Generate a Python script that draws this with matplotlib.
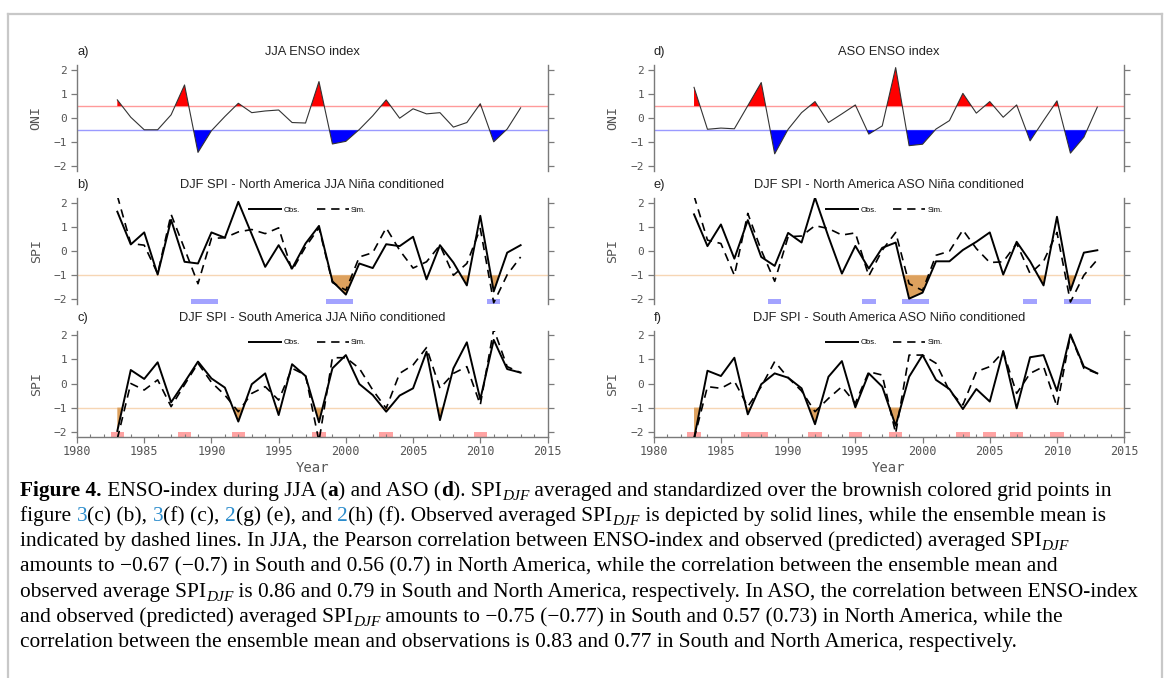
import numpy as np
import matplotlib.pyplot as plt
from matplotlib.lines import Line2D
from matplotlib.ticker import MultipleLocator

W, H = 1167, 678

years = np.arange(1983, 2014)

# ENSO index (ONI)
oni_jja = [0.76, 0.04, -0.48, -0.48, 0.14, 1.38, -1.42, -0.52, 0.07, 0.62,
           0.23, 0.30, 0.34, -0.18, -0.20, 1.52, -1.07, -0.96, -0.47, 0.10,
           0.76, 0.00, 0.39, 0.18, 0.23, -0.37, -0.18, 0.60, -0.98, -0.45, 0.43]
oni_aso = [1.28, -0.46, -0.41, -0.44, 0.52, 1.48, -1.48, -0.46, 0.23, 0.69,
           -0.18, 0.18, 0.55, -0.66, -0.32, 2.10, -1.14, -1.08, -0.45, -0.10,
           1.03, 0.21, 0.69, 0.04, 0.55, -0.94, -0.10, 0.72, -1.45, -0.79, 0.46]

# DJF SPI, North America (Nina conditioned)
na_jja_obs = [1.64, 0.28, 0.78, -0.97, 1.30, -0.44, -0.51, 0.78, 0.56, 2.05,
              0.70, -0.65, 0.25, -0.72, 0.32, 1.05, -1.25, -1.80, -0.51, -0.70,
              0.29, 0.21, 0.60, -1.17, 0.25, -0.47, -1.42, 1.47, -1.67, -0.06, 0.25]
na_jja_sim = [2.30, 0.32, 0.25, -0.93, 1.53, 0.10, -1.35, 0.53, 0.56, 0.80,
              0.90, 0.73, 0.97, -0.80, 0.18, 0.97, -1.30, -1.62, -0.24, -0.06,
              0.97, 0.04, -0.70, -0.44, 0.25, -1.00, -0.51, 0.94, -2.14, -0.98, -0.24]
na_aso_obs = [1.53, 0.21, 1.11, -0.31, 1.29, -0.24, -0.61, 0.76, 0.36, 2.22,
              0.60, -0.93, 0.22, -0.72, 0.14, 0.36, -1.97, -1.72, -0.42, -0.42,
              0.05, 0.39, 0.78, -0.97, 0.39, -0.42, -1.42, 1.43, -1.63, -0.06, 0.04]
na_aso_sim = [2.30, 0.46, 0.32, -1.00, 1.57, 0.04, -1.25, 0.60, 0.63, 1.06,
              0.94, 0.67, 0.76, -1.03, 0.04, 0.78, -1.35, -1.63, -0.17, 0.00,
              0.88, 0.11, -0.47, -0.44, 0.32, -0.93, -0.42, 0.78, -2.11, -1.00, -0.35]

# DJF SPI, South America (Nino conditioned)
sa_jja_obs = [-1.97, 0.56, 0.19, 0.88, -0.78, 0.05, 0.91, 0.21, -0.17, -1.58,
              -0.03, 0.42, -1.31, 0.80, 0.31, -1.61, 0.63, 1.18, -0.02, -0.48,
              -1.17, -0.50, -0.20, 1.32, -1.52, 0.63, 1.71, -0.66, 1.81, 0.60, 0.45]
sa_jja_sim = [-2.30, 0.00, -0.27, 0.15, -0.96, -0.05, 0.84, 0.05, -0.48, -1.17,
              -0.41, -0.13, -0.69, 0.63, 0.35, -2.40, 1.07, 1.07, 0.63, -0.27,
              -1.03, 0.42, 0.77, 1.49, -0.20, 0.42, 0.70, -0.89, 2.26, 0.70, 0.45]
sa_aso_obs = [-2.30, 0.53, 0.31, 1.07, -1.28, -0.03, 0.42, 0.24, -0.20, -1.69,
              0.28, 0.93, -0.99, 0.42, -0.13, -1.75, 0.28, 1.18, 0.15, -0.23,
              -1.06, -0.23, -0.75, 1.35, -1.03, 1.09, 1.18, -0.31, 2.04, 0.70, 0.42]
sa_aso_sim = [-2.30, -0.13, -0.20, 0.10, -0.96, -0.13, 0.91, 0.24, -0.31, -1.17,
              -0.62, -0.13, -0.82, 0.49, 0.35, -2.07, 1.18, 1.18, 0.84, -0.31,
              -0.89, 0.49, 0.70, 1.32, -0.41, 0.42, 0.70, -0.96, 2.01, 0.63, 0.42]

# years flagged at the bottom of the SPI panels
nina_jja = [1989, 1990, 1999, 2000, 2011]
nino_jja = [1983, 1988, 1992, 1998, 2003, 2010]
nina_aso = [1989, 1996, 1999, 2000, 2008, 2011, 2012]
nino_aso = [1983, 1987, 1988, 1992, 1995, 1998, 2003, 2005, 2007, 2010]

SPINE = '#7a7a7a'
TICKLBL = '#555555'
MONO = 'DejaVu Sans Mono'
SANS = 'Liberation Sans'


def style_axis(ax, bottom_row, ylabel):
    ax.set_xlim(1980, 2015)
    ax.set_ylim(-2.2, 2.2)
    ax.set_yticks([-2, -1, 0, 1, 2])
    ax.spines['top'].set_visible(False)
    for s in ('left', 'right', 'bottom'):
        ax.spines[s].set_color(SPINE)
        ax.spines[s].set_linewidth(1.0)
    ax.tick_params(axis='y', left=True, right=True, labelleft=True,
                   labelright=False, direction='out', length=4, width=0.9,
                   color=SPINE, labelcolor=TICKLBL, labelsize=8, pad=3)
    for lab in ax.get_yticklabels():
        lab.set_family(MONO)
    ax.set_ylabel(ylabel, family=MONO, color=TICKLBL, fontsize=9.5, labelpad=8)
    if bottom_row:
        ax.xaxis.set_major_locator(MultipleLocator(5))
        ax.xaxis.set_minor_locator(MultipleLocator(1))
        ax.tick_params(axis='x', which='major', direction='out', length=4,
                       width=0.9, color=SPINE, labelcolor=TICKLBL, labelsize=8.5, pad=2)
        ax.tick_params(axis='x', which='minor', direction='in', length=2.5,
                       width=0.8, color=SPINE)
        for lab in ax.get_xticklabels():
            lab.set_family(MONO)
        ax.set_xlabel('Year', family=MONO, color=TICKLBL, fontsize=10, labelpad=2)
    else:
        ax.spines['bottom'].set_visible(False)
        ax.tick_params(axis='x', which='both', bottom=False, labelbottom=False)


def titles(ax, letter, title):
    ax.set_title(title, family=SANS, fontsize=9.3, color='#222222', pad=7)
    ax.set_title(letter, loc='left', family=SANS, fontsize=9.3, color='#222222', pad=7)


def oni_panel(ax, oni, letter, title):
    oni = np.array(oni)
    ax.axhline(0.5, color='#ff9a9a', lw=1.0, zorder=1)
    ax.axhline(-0.5, color='#9a9aff', lw=1.0, zorder=1)
    ax.fill_between(years, oni, 0.5, where=oni > 0.5, interpolate=True,
                    color='red', lw=0, zorder=2)
    ax.fill_between(years, oni, -0.5, where=oni < -0.5, interpolate=True,
                    color='blue', lw=0, zorder=2)
    ax.plot(years, oni, color='#333333', lw=0.8, zorder=3)
    titles(ax, letter, title)


def spi_panel(ax, obs, sim, flags, flag_color, letter, title):
    obs = np.array(obs)
    ax.axhline(-1, color='#f6d6b4', lw=1.0, zorder=1)
    ax.fill_between(years, obs, -1, where=obs < -1, interpolate=True,
                    color='#dda15e', lw=0, zorder=2)
    ax.bar(flags, 0.2, bottom=-2.2, width=1.0, color=flag_color, lw=0, zorder=1.5)
    ax.plot(years, obs, color='black', lw=1.4, label='Obs.', zorder=4)
    ax.plot(years, sim, color='black', lw=1.2, dashes=(5, 3.5), label='Sim.', zorder=4)
    leg = ax.legend(loc='center', bbox_to_anchor=(0.49, 0.885), ncol=2,
                    frameon=False, fontsize=5.5, handlelength=4.2,
                    handletextpad=0.3, columnspacing=2.2)
    for t in leg.get_texts():
        t.set_family(SANS)
    titles(ax, letter, title)


fig = plt.figure(figsize=(W / 100, H / 100), dpi=100)

col_x = [77 / W, 653.7 / W]
col_w = 470.5 / W
row_top = [65.2, 198.2, 330.5]
row_h = 106.0

axes = {}
for ci in range(2):
    for ri in range(3):
        bottom = 1 - (row_top[ri] + row_h) / H
        axes[(ri, ci)] = fig.add_axes([col_x[ci], bottom, col_w, row_h / H])

oni_panel(axes[(0, 0)], oni_jja, 'a)', 'JJA ENSO index')
oni_panel(axes[(0, 1)], oni_aso, 'd)', 'ASO ENSO index')
spi_panel(axes[(1, 0)], na_jja_obs, na_jja_sim, nina_jja, '#a3a3ff', 'b)',
          'DJF SPI - North America JJA Niña conditioned')
spi_panel(axes[(1, 1)], na_aso_obs, na_aso_sim, nina_aso, '#a3a3ff', 'e)',
          'DJF SPI - North America ASO Niña conditioned')
spi_panel(axes[(2, 0)], sa_jja_obs, sa_jja_sim, nino_jja, '#ffa3a3', 'c)',
          'DJF SPI - South America JJA Niño conditioned')
spi_panel(axes[(2, 1)], sa_aso_obs, sa_aso_sim, nino_aso, '#ffa3a3', 'f)',
          'DJF SPI - South America ASO Niño conditioned')

for (ri, ci), ax in axes.items():
    style_axis(ax, ri == 2, 'ONI' if ri == 0 else 'SPI')

# light frame around the figure block
frame = dict(color='#c8c8c8', lw=1.6)
fig.add_artist(Line2D([8 / W, 1162 / W], [1 - 14 / H, 1 - 14 / H], **frame))
fig.add_artist(Line2D([8 / W, 8 / W], [0, 1 - 14 / H], **frame))
fig.add_artist(Line2D([1162 / W, 1162 / W], [0, 1 - 14 / H], **frame))

# caption
LINK = '#2b8ccc'
caption = [
    [('Figure 4.', 'b'), (' ENSO-index during JJA (', ''), ('a', 'b'), (') and ASO (', ''),
     ('d', 'b'), ('). SPI', ''), ('DJF', 'sub'),
     (' averaged and standardized over the brownish colored grid points in', '')],
    [('figure ', ''), ('3', 'link'), ('(c) (b), ', ''), ('3', 'link'), ('(f) (c), ', ''),
     ('2', 'link'), ('(g) (e), and ', ''), ('2', 'link'),
     ('(h) (f). Observed averaged SPI', ''), ('DJF', 'sub'),
     (' is depicted by solid lines, while the ensemble mean is', '')],
    [('indicated by dashed lines. In JJA, the Pearson correlation between ENSO-index '
      'and observed (predicted) averaged SPI', ''), ('DJF', 'sub')],
    [('amounts to \u22120.67 (\u22120.7) in South and 0.56 (0.7) in North America, '
      'while the correlation between the ensemble mean and', '')],
    [('observed average SPI', ''), ('DJF', 'sub'),
     (' is 0.86 and 0.79 in South and North America, respectively. In ASO, the '
      'correlation between ENSO-index', '')],
    [('and observed (predicted) averaged SPI', ''), ('DJF', 'sub'),
     (' amounts to \u22120.75 (\u22120.77) in South and 0.57 (0.73) in North America, '
      'while the', '')],
    [('correlation between the ensemble mean and observations is 0.83 and 0.77 in '
      'South and North America, respectively.', '')],
]

CAP_SIZE = 15.4
fig.canvas.draw()
renderer = fig.canvas.get_renderer()


def seg_width(s, prop):
    w1, _, _ = renderer.get_text_width_height_descent('x' + s + 'x', prop, ismath=False)
    w0, _, _ = renderer.get_text_width_height_descent('xx', prop, ismath=False)
    return w1 - w0


for i, segs in enumerate(caption):
    x = 20.0
    base = 496.0 + i * 25.2
    for txt, kind in segs:
        props = dict(family=['Liberation Serif', 'DejaVu Serif'], size=CAP_SIZE,
                     color='black')
        y = base
        if kind == 'b':
            props['weight'] = 'bold'
        elif kind == 'link':
            props['color'] = LINK
        elif kind == 'sub':
            props['size'] = CAP_SIZE * 0.72
            props['style'] = 'italic'
            y = base + 3.8
        t = fig.text(x / W, 1 - y / H, txt, ha='left', va='baseline', **props)
        x += seg_width(txt, t.get_fontproperties())

fig.savefig('out.png', dpi=100)
